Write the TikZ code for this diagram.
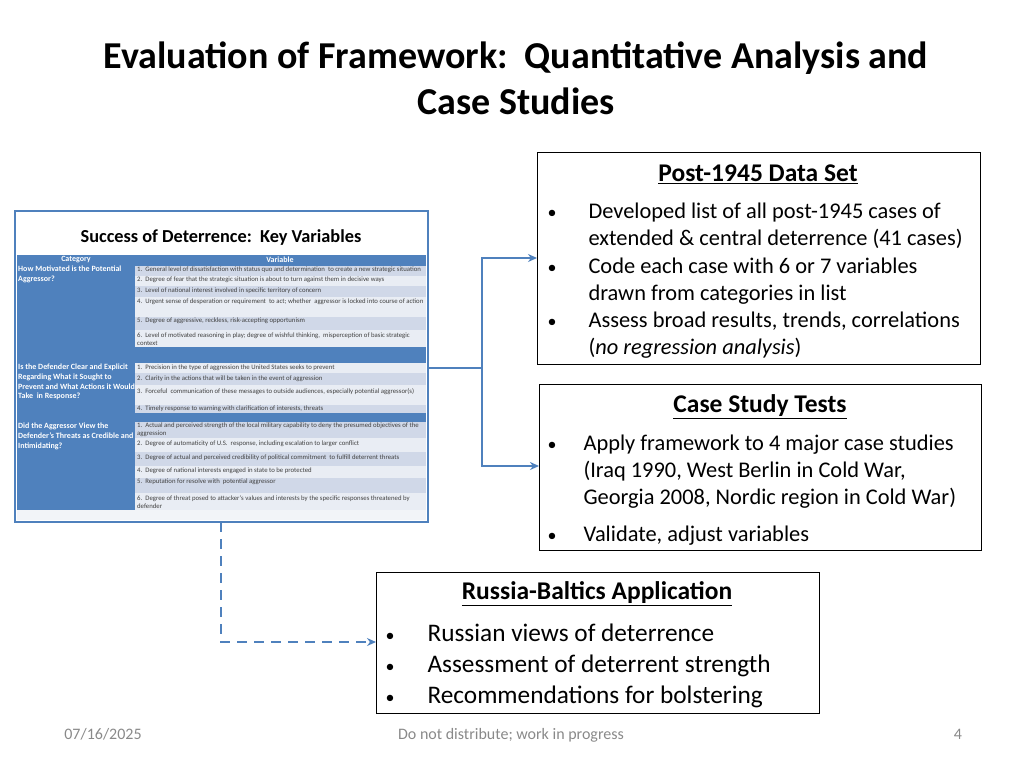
\documentclass[tikz,border=0pt]{standalone}
\usepackage{fontspec}
\setmainfont{Carlito}
\usetikzlibrary{arrows.meta}
\definecolor{tblue}{RGB}{79,129,189}
\definecolor{rowa}{RGB}{208,216,232}
\definecolor{rowb}{RGB}{233,237,244}
\definecolor{foot}{RGB}{137,137,137}
\newcommand{\fs}[1]{\fontsize{#1pt}{1.2\dimexpr #1pt\relax}\selectfont}
\begin{document}
\begin{tikzpicture}[x=1pt,y=-1pt,
  box/.style={draw=black,line width=0.8pt,fill=white},
  ttl/.style={font=\fs{25.5}\bfseries},
  bt/.style={anchor=base west,font=\fs{22.4}},
  bul/.style={anchor=base,font=\fs{18}},
  rt/.style={anchor=west,font=\fs{6.75},text=black!75,inner sep=1pt},
  cat/.style={anchor=north west,font=\fs{8}\bfseries,text=white,text width=118pt,inner sep=1pt,align=flush left},
  conn/.style={draw=tblue,line width=2.5pt},
  foottxt/.style={font=\fs{16},text=foot}]
\useasboundingbox (0,0) rectangle (1024,768);
\node[font=\fs{38}\bfseries,align=center] (title) at (516,78) {Evaluation of Framework:\ \ Quantitative Analysis and\\Case Studies};

% table
\coordinate (tblR) at (428,368);
\coordinate (tblB) at (221,522);
\fill[white] (15,211) rectangle (428,522);
\node[font=\fs{18.3}\bfseries] (tt) at (221,238) {Success of Deterrence:\ \ Key Variables};
\fill[tblue] (17,255) rectangle (426,510);
\node[font=\fs{8}\bfseries,text=white,inner sep=0pt] (h1) at (76,260) {Category};
\node[font=\fs{8}\bfseries,text=white,inner sep=0pt] (h2) at (280,260) {Variable};
\foreach \a/\b [count=\i] in {266/276,276/286,286/297,297/317,317/330,330/347}{
  \ifodd\i \fill[rowa] (135,\a) rectangle (426,\b); \else \fill[rowb] (135,\a) rectangle (426,\b); \fi }
\foreach \a/\b [count=\i] in {363/373,373/385,385/405,405/413}{
  \ifodd\i \fill[rowb] (135,\a) rectangle (426,\b); \else \fill[rowa] (135,\a) rectangle (426,\b); \fi }
\foreach \a/\b [count=\i] in {422/438,438/452,452/466,466/478,478/493,493/510}{
  \ifodd\i \fill[rowa] (135,\a) rectangle (426,\b); \else \fill[rowb] (135,\a) rectangle (426,\b); \fi }
\fill[rowb!60] (17,510) rectangle (426,520);
\node[cat] (c1) at (17,265) {How Motivated is the Potential Aggressor?};
\node[cat] (c2) at (17,363) {Is the Defender Clear and Explicit Regarding What it Sought to Prevent and What Actions it Would Take\ \ in Response?};
\node[cat] (c3) at (17,422) {Did the Aggressor View the Defender's Threats as Credible and Intimidating?};
\node[rt] (r11) at (136,270) {1.\ \ General level of dissatisfaction with status quo and determination\ \ to create a new strategic situation};
\node[rt] (r12) at (136,280) {2.\ \ Degree of fear that the strategic situation is about to turn against them in decisive ways};
\node[rt] (r13) at (136,291) {3.\ \ Level of national interest involved in specific territory of concern};
\node[rt] (r14) at (136,302) {4.\ \ Urgent sense of desperation or requirement\ \ to act; whether\ \ aggressor is locked into course of action};
\node[rt] (r15) at (136,321) {5.\ \ Degree of aggressive, reckless, risk-accepting opportunism};
\node[rt,text width=288pt,align=flush left] (r16) at (136,339) {6.\ \ Level of motivated reasoning in play; degree of wishful thinking,\ \ misperception of basic strategic context};
\node[rt] (r21) at (136,368) {1.\ \ Precision in the type of aggression the United States seeks to prevent};
\node[rt] (r22) at (136,379) {2.\ \ Clarity in the actions that will be taken in the event of aggression};
\node[rt] (r23) at (136,392) {3.\ \ Forceful\ \ communication of these messages to outside audiences, especially potential aggressor(s)};
\node[rt] (r24) at (136,409) {4.\ \ Timely response to warning with clarification of interests, threats};
\node[rt,text width=288pt,align=flush left] (r31) at (136,430) {1.\ \ Actual and perceived strength of the local military capability to deny the presumed objectives of the aggression};
\node[rt] (r32) at (136,444) {2.\ \ Degree of automaticity of U.S.\ \ response, including escalation to larger conflict};
\node[rt] (r33) at (136,458) {3.\ \ Degree of actual and perceived credibility of political commitment\ \ to fulfill deterrent threats};
\node[rt] (r34) at (136,471) {4.\ \ Degree of national interests engaged in state to be protected};
\node[rt] (r35) at (136,482) {5.\ \ Reputation for resolve with\ \ potential aggressor};
\node[rt,text width=288pt,align=flush left] (r36) at (136,502) {6.\ \ Degree of threat posed to attacker's values and interests by the specific responses threatened by defender};
\draw[tblue,line width=2.5pt] (15,211) rectangle (428,522);

% box 1
\draw[box] (537,152) rectangle (980,364);
\coordinate (b1L) at (537,258);
\node[ttl] (t1) at (758,174) {\underline{Post-1945 Data Set}};
\foreach \y in {218,273,327} \node[bul] at (552,\y) {•};
\node[bt] (l11) at (585,218) {Developed list of all post-1945 cases of};
\node[bt] at (585,245) {extended \& central deterrence (41 cases)};
\node[bt] at (585,273) {Code each case with 6 or 7 variables};
\node[bt] at (585,300) {drawn from categories in list};
\node[bt] at (585,327) {Assess broad results, trends, correlations};
\node[bt] at (585,354) {(\textit{no regression analysis})};

% box 2
\draw[box] (539,384) rectangle (981,550);
\coordinate (b2L) at (539,466);
\node[ttl] (t2) at (760,407) {\underline{Case Study Tests}};
\foreach \y in {450,541} \node[bul] at (552,\y) {•};
\node[bt] at (580,450) {Apply framework to 4 major case studies};
\node[bt] at (580,477) {(Iraq 1990, West Berlin in Cold War,};
\node[bt] at (580,504) {Georgia 2008, Nordic region in Cold War)};
\node[bt] at (580,541) {Validate, adjust variables};

% box 3
\draw[box] (376,572) rectangle (819,713);
\coordinate (b3L) at (376,642);
\node[ttl] (t3) at (597,594) {\underline{Russia-Baltics Application}};
\foreach \y in {641,672,703} \node[bul] at (390,\y) {•};
\node[bt,font=\fs{25.3}] at (424,641) {Russian views of deterrence};
\node[bt,font=\fs{25.3}] at (424,672) {Assessment of deterrent strength};
\node[bt,font=\fs{25.3}] at (424,703) {Recommendations for bolstering};

% connectors
\coordinate (jn) at (482,368);
\draw[conn] (tblR) -- (jn);
\draw[conn,-{Stealth[length=9pt,width=8pt]}] (jn) |- (b1L);
\draw[conn,-{Stealth[length=9pt,width=8pt]}] (jn) |- (b2L);
\draw[conn,dash pattern=on 10pt off 7pt,-{Stealth[length=9pt,width=8pt]}] (tblB) |- (b3L);

% footer
\node[foottxt,anchor=base] (d) at (103,739) {07/16/2025};
\node[foottxt,anchor=base] (f) at (511,739) {Do not distribute; work in progress};
\node[foottxt,anchor=base] (p) at (958,739) {4};
\end{tikzpicture}
\end{document}
